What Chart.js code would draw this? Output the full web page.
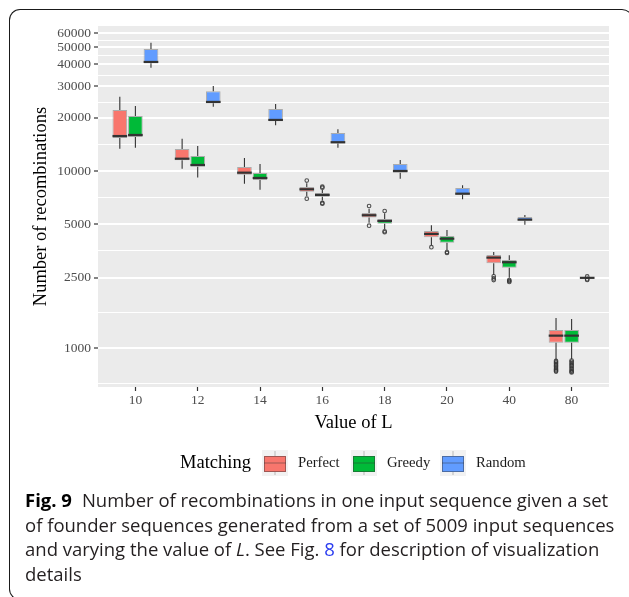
<!DOCTYPE html>
<html>
<head>
<meta charset="utf-8">
<script src="https://cdn.jsdelivr.net/npm/chart.js@4.4.1/dist/chart.umd.min.js"></script>
<style>
  html, body { margin:0; padding:0; background:#fff; width:629px; height:597px; overflow:hidden; }
  #wrap { position:relative; width:629px; height:597px; overflow:hidden; }
  #frame { position:absolute; left:9px; top:9px; width:613px; height:591px; box-sizing:border-box;
           border:1.2px solid #1a1a1a; border-right:none; border-radius:11px 0 0 11px; }
  #hook { position:absolute; left:611px; top:9px; width:22px; height:12px; box-sizing:border-box;
          border-top:1.2px solid #1a1a1a; border-right:1.2px solid #1a1a1a; border-top-right-radius:11px; }
  #chart { position:absolute; left:0; top:0; }
  #caption { position:absolute; left:25px; top:488px; font-family:'Open Sans', sans-serif; font-size:18.5px;
             line-height:24.7px; color:#231f20; white-space:nowrap; }
  #caption b { color:#000; margin-right:10px; }
  #caption .lnk { color:#2a3cf0; }
</style>
</head>
<body>
<div id="wrap">
  <div id="frame"></div>
  <div id="hook"></div>
  <canvas id="chart" width="629" height="597"></canvas>
  <div id="caption"><b>Fig. 9</b>Number of recombinations in one input sequence given a set<br>of founder sequences generated from a set of 5009 input sequences<br>and varying the value of <i>L</i>. See Fig. <span class="lnk">8</span> for description of visualization<br>details</div>
</div>
<script>
// ---------------- data ----------------
const categories = ['10', '12', '14', '16', '18', '20', '40', '80'];
const xTitle = 'Value of L';
const yTitle = 'Number of recombinations';
const legendTitle = 'Matching';

const yMajorTicks = [1000, 2500, 5000, 10000, 20000, 30000, 40000, 50000, 60000];
const yMinorTicks = [632, 1581, 3536, 7071, 14142, 24495, 34641, 44721, 54772];

// Perfect matching
const perfectLow  = [13360, 10300, 8480, 7225, 5100, 3820, 2585, 855];
const perfectQ1   = [15360, 11490, 9530, 7640, 5450, 4220, 3010, 1071];
const perfectMed  = [15750, 11730, 9780, 7880, 5620, 4410, 3240, 1174];
const perfectQ3   = [22110, 13310, 10530, 8120, 5790, 4580, 3350, 1264];
const perfectHigh = [26290, 15220, 11840, 8520, 6120, 4930, 3485, 1477];
const perfectOut  = [[], [], [], [8820, 6975], [6340, 4910], [3710], [2540, 2470, 2420],
                     [845, 830, 815, 800, 785, 770, 757, 745, 736]];

// Greedy matching
const greedyLow  = [13540, 9170, 7840, 6800, 4700, 3580, 2495, 863];
const greedyQ1   = [15560, 10570, 8900, 7160, 5040, 3935, 2840, 1071];
const greedyMed  = [15970, 10810, 9130, 7320, 5220, 4145, 3050, 1174];
const greedyQ3   = [20440, 12150, 9740, 7510, 5360, 4290, 3140, 1264];
const greedyHigh = [23290, 13840, 10950, 7810, 5770, 4640, 3340, 1459];
const greedyOut  = [[], [], [], [8150, 8050, 6600, 6535], [5940, 4560, 4505], [3480, 3440], [2420, 2390, 2360],
                    [850, 835, 820, 805, 790, 775, 760, 745, 735, 727]];

// Random matching
const randomLow  = [38330, 23080, 18120, 13540, 9050, 6920, 4970, 2450];
const randomQ1   = [40590, 24130, 19240, 14270, 9780, 7350, 5240, 2480];
const randomMed  = [41280, 24540, 19420, 14530, 10000, 7440, 5310, 2490];
const randomQ3   = [48900, 28200, 22400, 16390, 10950, 8015, 5500, 2500];
const randomHigh = [53070, 30210, 23900, 17200, 11540, 8300, 5640, 2530];
const randomOut  = [[], [], [], [], [], [], [], [2535, 2445, 2425]];

// ---------------- build ----------------
const series = [
  { label: 'Perfect', color: '#F8766D', low: perfectLow, q1: perfectQ1, med: perfectMed, q3: perfectQ3, high: perfectHigh, out: perfectOut },
  { label: 'Greedy',  color: '#00BA38', low: greedyLow,  q1: greedyQ1,  med: greedyMed,  q3: greedyQ3,  high: greedyHigh,  out: greedyOut },
  { label: 'Random',  color: '#619CFF', low: randomLow,  q1: randomQ1,  med: randomMed,  q3: randomQ3,  high: randomHigh,  out: randomOut }
];

const SERIF = '"Liberation Serif", "DejaVu Serif", serif';

const panelBg = {
  id: 'panelBg',
  beforeDraw(chart) {
    const a = chart.chartArea, ctx = chart.ctx;
    ctx.save();
    ctx.fillStyle = '#EBEBEB';
    ctx.fillRect(a.left, a.top, a.right - a.left, a.bottom - a.top);
    ctx.restore();
  }
};

function seg(ctx, x1, y1, x2, y2) {
  ctx.beginPath(); ctx.moveTo(x1, y1); ctx.lineTo(x2, y2); ctx.stroke();
}

const boxExtras = {
  id: 'boxExtras',
  afterDatasetsDraw(chart) {
    const ctx = chart.ctx, ys = chart.scales.y;
    ctx.save();
    series.forEach((s, d) => {
      const meta = chart.getDatasetMeta(d);
      meta.data.forEach((bar, i) => {
        const cx = bar.x, w = bar.width;
        const pLow = ys.getPixelForValue(s.low[i]);
        const pQ1 = ys.getPixelForValue(s.q1[i]);
        const pMed = ys.getPixelForValue(s.med[i]);
        const pQ3 = ys.getPixelForValue(s.q3[i]);
        const pHigh = ys.getPixelForValue(s.high[i]);
        ctx.strokeStyle = '#333333';
        ctx.lineWidth = 1.1;
        seg(ctx, cx, pQ3, cx, pHigh);
        seg(ctx, cx, pQ1, cx, pLow);
        ctx.lineWidth = 2.2;
        seg(ctx, cx - w / 2, pMed, cx + w / 2, pMed);
        ctx.lineWidth = 1.1;
        ctx.strokeStyle = 'rgba(51,51,51,0.85)';
        s.out[i].forEach(v => {
          const py = ys.getPixelForValue(v);
          ctx.beginPath(); ctx.arc(cx, py, 1.8, 0, Math.PI * 2); ctx.stroke();
        });
      });
    });
    ctx.restore();
  }
};

const ggLegend = {
  id: 'ggLegend',
  afterDraw(chart) {
    const ctx = chart.ctx;
    const cy = 463;
    ctx.save();
    ctx.textBaseline = 'middle';
    ctx.textAlign = 'left';
    ctx.fillStyle = '#000';
    ctx.font = '18.5px ' + SERIF;
    ctx.fillText(legendTitle, 180, cy);
    const keyX = [262, 351, 440];
    const labX = [298, 387, 476];
    series.forEach((s, k) => {
      const x0 = keyX[k], y0 = cy - 13;
      ctx.fillStyle = '#F2F2F2';
      ctx.fillRect(x0, y0, 26, 26);
      ctx.strokeStyle = 'rgba(51,51,51,0.3)';
      ctx.lineWidth = 1;
      seg(ctx, x0 + 13, y0 + 1, x0 + 13, y0 + 25);
      ctx.fillStyle = s.color;
      ctx.fillRect(x0 + 2, y0 + 6, 22, 16);
      ctx.strokeStyle = 'rgba(51,51,51,0.45)';
      ctx.strokeRect(x0 + 2.5, y0 + 6.5, 21, 15);
      seg(ctx, x0 + 2, cy, x0 + 24, cy);
      ctx.fillStyle = '#1a1a1a';
      ctx.font = '14.7px ' + SERIF;
      ctx.fillText(s.label, labX[k], cy);
    });
    ctx.restore();
  }
};

const allYTicks = yMajorTicks.concat(yMinorTicks).sort((a, b) => a - b);
const isMajor = v => yMajorTicks.includes(v);

new Chart(document.getElementById('chart'), {
  type: 'bar',
  data: {
    datasets: series.map(s => ({
      label: s.label,
      data: categories.map((c, i) => ({ x: i + 1, y: [s.q1[i], s.q3[i]] })),
      backgroundColor: s.color,
      borderColor: 'rgba(120,120,120,0.55)',
      borderWidth: 1,
      borderSkipped: false,
      categoryPercentage: 0.75,
      barPercentage: 0.94,
      grouped: true
    }))
  },
  options: {
    responsive: false,
    animation: false,
    devicePixelRatio: 1,
    layout: { padding: { left: 0, right: 20, top: 26, bottom: 163 } },
    plugins: { legend: { display: false }, tooltip: { enabled: false } },
    scales: {
      x: {
        type: 'linear',
        min: 0.4, max: 8.6,
        offset: false,
        afterBuildTicks: sc => { sc.ticks = categories.map((c, i) => ({ value: i + 1 })); },
        afterFit: sc => { sc.height = 47; },
        ticks: {
          autoSkip: false, maxRotation: 0, padding: 1,
          color: '#4D4D4D', font: { family: SERIF, size: 13.5 },
          callback: v => categories[Math.round(v) - 1]
        },
        grid: { offset: false, drawOnChartArea: false, drawTicks: true, tickLength: 4, tickColor: '#333333', tickWidth: 1.2 },
        border: { display: false },
        title: { display: true, text: xTitle, color: '#000', font: { family: SERIF, size: 18.5 }, padding: { top: 0, bottom: 0 } }
      },
      y: {
        type: 'logarithmic',
        min: 602, max: 65900,
        afterBuildTicks: sc => { sc.ticks = allYTicks.map(v => ({ value: v, major: false })); },
        afterFit: sc => { sc.width = 98; },
        ticks: {
          autoSkip: false, padding: 3,
          color: '#4D4D4D', font: { family: SERIF, size: 13.5 },
          callback: v => isMajor(v) ? String(v) : ''
        },
        grid: {
          offset: false,
          color: '#FFFFFF',
          lineWidth: c => (c.tick && isMajor(c.tick.value)) ? 2 : 1,
          drawTicks: true, tickLength: 4,
          tickColor: c => (c.tick && isMajor(c.tick.value)) ? '#333333' : 'rgba(0,0,0,0)',
          tickWidth: 1.2
        },
        border: { display: false },
        title: { display: true, text: yTitle, color: '#000', font: { family: SERIF, size: 18.5 }, padding: { top: 30, bottom: 0 } }
      }
    }
  },
  plugins: [panelBg, boxExtras, ggLegend]
});
</script>
</body>
</html>
